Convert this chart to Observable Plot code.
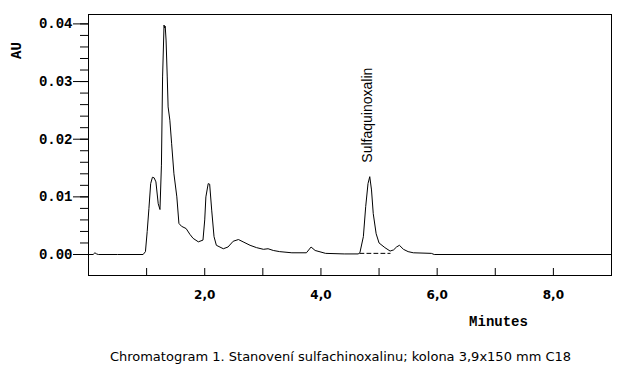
<!DOCTYPE html>
<html>
<head>
<meta charset="utf-8">
<script src="https://cdn.jsdelivr.net/npm/d3@7"></script>
<script src="https://cdn.jsdelivr.net/npm/@observablehq/plot@0.6"></script>
<style>
  html, body { margin: 0; padding: 0; background: #fff; }
  #caption { font-family: "DejaVu Sans", sans-serif; font-size: 13px; color: #000;
             width: 631px; text-align: center; padding-left: 50px; box-sizing: border-box;
             margin-top: 15px; line-height: 14px; }
</style>
</head>
<body>
<div id="chart"></div>
<div id="caption">Chromatogram 1. Stanovení sulfachinoxalinu; kolona 3,9x150 mm C18</div>
<script>
// Retention time (minutes) and detector response (AU)
const times = [0.00, 0.08, 0.11, 0.14, 0.17, 0.50, 0.94, 0.98, 1.01, 1.04, 1.07, 1.10, 1.13, 1.16, 1.20, 1.23,
  1.255, 1.275, 1.30, 1.31, 1.32, 1.335, 1.355, 1.37, 1.40, 1.43, 1.47, 1.52, 1.556, 1.60, 1.68, 1.745, 1.80,
  1.89, 1.97, 2.00, 2.02, 2.06, 2.085, 2.12, 2.16, 2.20, 2.32, 2.40, 2.49, 2.58, 2.66, 2.78, 2.89, 3.01, 3.09,
  3.18, 3.29, 3.50, 3.75, 3.83, 3.90, 4.08, 4.40, 4.64, 4.67, 4.73, 4.77, 4.81, 4.84, 4.87, 4.90, 4.95, 5.00,
  5.10, 5.19, 5.25, 5.30, 5.35, 5.42, 5.50, 5.59, 5.90, 5.95, 9.00];
const au = [0.0000, 0.0000, 0.0003, 0.0001, 0.0000, 0.0000, 0.0000, 0.0005, 0.0040, 0.0080, 0.0123, 0.0134, 0.0133, 0.0126, 0.0088, 0.0078,
  0.0155, 0.0308, 0.0398, 0.0393, 0.0396, 0.0372, 0.0308, 0.0256, 0.0233, 0.0193, 0.0140, 0.0100, 0.0054, 0.0049, 0.0045, 0.0035, 0.0028,
  0.0022, 0.0025, 0.0060, 0.0100, 0.0123, 0.0122, 0.0077, 0.0031, 0.0016, 0.0010, 0.0013, 0.0023, 0.0026, 0.0022, 0.0016, 0.0012, 0.0009, 0.0010,
  0.0007, 0.0005, 0.0003, 0.0003, 0.0013, 0.0007, 0.0002, 0.0001, 0.0001, 0.0003, 0.0031, 0.0083, 0.0123, 0.0135, 0.0112, 0.0071, 0.0036, 0.0020,
  0.0012, 0.0006, 0.0008, 0.0013, 0.0016, 0.0009, 0.0005, 0.0003, 0.0002, 0.0000, 0.0000];

// Integration baseline under the labelled peak
const baseT = [4.67, 5.19];
const baseAU = [0.0002, 0.0002];

// Peak labels
const peakNames = ["Sulfaquinoxalin"];
const peakTimes = [4.84];
const peakHeights = [0.0135];

// Axis ticks
const yMajor = [0, 0.01, 0.02, 0.03, 0.04];
const yMinor = d3.range(0, 21).map(i => i * 0.002);
const xMinorTicks = [1, 2, 3, 4, 5, 6, 7, 8];
const xLabelTicks = [2, 4, 6, 8];

const trace = times.map((t, i) => ({t, v: au[i]}));
const baseline = baseT.map((t, i) => ({t, v: baseAU[i]}));
const peaks = peakNames.map((n, i) => ({n, t: peakTimes[i], v: peakHeights[i]}));

const mono = "'Liberation Mono', 'Courier New', monospace";
const W = 631, H = 335, ML = 88, MR = 20, MT = 14, MB = 60;
const frameW = W - ML - MR, frameH = H - MT - MB;

const chart = Plot.plot({
  width: W,
  height: H,
  marginLeft: ML,
  marginRight: MR,
  marginTop: MT,
  marginBottom: MB,
  style: {background: "#fff", color: "#000", overflow: "visible"},
  x: {domain: [0, 9]},
  y: {domain: [-0.00364, 0.04163]},
  marks: [
    // tick marks drawn as short tick segments at the frame edges
    Plot.tickY(yMinor, {y: d => d, dx: -8, insetRight: frameW - 8, stroke: "#000", strokeWidth: 1}),
    Plot.tickY(yMajor, {y: d => d, dx: -15, insetRight: frameW - 15, stroke: "#000", strokeWidth: 1}),
    Plot.tickX(xMinorTicks, {x: d => d, insetTop: frameH - 7, stroke: "#000", strokeWidth: 1}),
    Plot.axisY({ticks: yMajor, tickSize: 0, tickPadding: 16, tickFormat: d3.format(".2f"), label: null,
      fontFamily: mono, fontSize: 14, fontWeight: "bold"}),
    Plot.axisX({ticks: xLabelTicks, tickSize: 0, tickPadding: 15, label: null,
      tickFormat: d => d.toFixed(1).replace(".", ","),
      fontFamily: "'DejaVu Sans', sans-serif", fontSize: 12, fontWeight: "bold"}),
    Plot.frame({stroke: "#000"}),
    Plot.line(trace, {x: "t", y: "v", stroke: "#000", strokeWidth: 1}),
    Plot.line(baseline, {x: "t", y: "v", stroke: "#000", strokeWidth: 1, strokeDasharray: "4,3"}),
    Plot.text(peaks, {x: "t", y: "v", text: "n", rotate: -90, textAnchor: "start", lineAnchor: "middle",
      dy: -14, dx: -2, fontFamily: "'Liberation Sans', Arial, sans-serif", fontSize: 14, fill: "#000"}),
    Plot.text(["AU"], {frameAnchor: "top-left", text: d => d, rotate: -90, dx: -72, dy: 36,
      lineAnchor: "middle", textAnchor: "middle", fontFamily: mono, fontSize: 14, fontWeight: "bold", fill: "#000"}),
    Plot.text(["Minutes"], {frameAnchor: "bottom-right", text: d => d, dx: -113, dy: 46,
      lineAnchor: "middle", textAnchor: "middle", fontFamily: mono, fontSize: 14, fontWeight: "bold", fill: "#000"})
  ]
});
document.getElementById("chart").appendChild(chart);
</script>
</body>
</html>
